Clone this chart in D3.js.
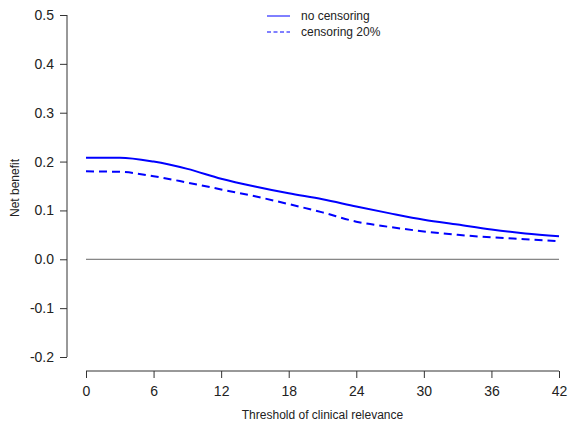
<!DOCTYPE html>
<html lang="en">
<head>
<meta charset="utf-8">
<script src="https://d3js.org/d3.v7.min.js"></script>
<style>
  body { margin: 0; background: #fff; }
  text { font-family: "Liberation Sans", Arial, sans-serif; fill: #222; }
</style>
</head>
<body>
<div id="plot-div"></div>
<script>
const width = 570
const height = 437

// values
const thresholds = [0, 3, 6, 9, 12, 15, 18, 21, 24, 27, 30, 33, 36, 39, 42]
const noCensoring = [0.208, 0.208, 0.200, 0.185, 0.165, 0.149, 0.135, 0.123, 0.108, 0.094, 0.081, 0.071, 0.061, 0.053, 0.047]
const censoring20 = [0.180, 0.179, 0.170, 0.157, 0.143, 0.129, 0.113, 0.096, 0.077, 0.066, 0.057, 0.050, 0.045, 0.041, 0.037]
const xTicks = [0, 6, 12, 18, 24, 30, 36, 42]
const yTicks = [-0.2, -0.1, 0, 0.1, 0.2, 0.3, 0.4, 0.5]
const seriesNames = ["no censoring", "censoring 20%"]

let xScale = d3.scaleLinear().domain([0, 42]).range([86, 559])
let yScale = d3.scaleLinear().domain([-0.2, 0.5]).range([357, 15])

var svg = d3.select("#plot-div")
  .append("svg")
  .attr("width", width)
  .attr("height", height)

// y axis
svg.append("g")
  .attr("transform", "translate(67,0)")
  .call(d3.axisLeft(yScale).tickValues(yTicks).tickFormat(d => d.toFixed(1)).tickSize(7).tickPadding(6))
  .call(g => g.select(".domain").attr("stroke", "#333").attr("d", `M0,${yScale(-0.2)}V${yScale(0.5)}`))
  .call(g => g.selectAll(".tick line").attr("stroke", "#333"))
  .call(g => g.selectAll(".tick text").attr("font-size", 14).attr("font-family", "Liberation Sans, Arial, sans-serif").attr("fill", "#222"))

// x axis
svg.append("g")
  .attr("transform", "translate(0,371)")
  .call(d3.axisBottom(xScale).tickValues(xTicks).tickSize(7).tickPadding(8))
  .call(g => g.select(".domain").attr("stroke", "#333").attr("d", `M${xScale(0)},0H${xScale(42)}`))
  .call(g => g.selectAll(".tick line").attr("stroke", "#333"))
  .call(g => g.selectAll(".tick text").attr("font-size", 14).attr("font-family", "Liberation Sans, Arial, sans-serif").attr("fill", "#222"))

// axis titles
svg.append("text")
  .attr("x", xScale(21))
  .attr("y", 419)
  .attr("text-anchor", "middle")
  .attr("font-size", 12)
  .text("Threshold of clinical relevance")

svg.append("text")
  .attr("transform", "translate(19,188) rotate(-90)")
  .attr("text-anchor", "middle")
  .attr("font-size", 12)
  .text("Net benefit")

// zero reference line
svg.append("line")
  .attr("x1", xScale(0)).attr("x2", xScale(42))
  .attr("y1", yScale(0)).attr("y2", yScale(0))
  .attr("stroke", "#666")
  .attr("stroke-width", 1)

let line = d3.line()
  .x((d, i) => xScale(thresholds[i]))
  .y(d => yScale(d))
  .curve(d3.curveMonotoneX)

svg.append("path")
  .datum(noCensoring)
  .attr("d", line)
  .attr("fill", "none")
  .attr("stroke", "#0000ff")
  .attr("stroke-width", 2)

svg.append("path")
  .datum(censoring20)
  .attr("d", line)
  .attr("fill", "none")
  .attr("stroke", "#0000ff")
  .attr("stroke-width", 2)
  .attr("stroke-dasharray", "8,5")

// legend
let legend = svg.append("g").attr("transform", "translate(267,16)")
seriesNames.forEach((name, i) => {
  legend.append("line")
    .attr("x1", 0).attr("x2", 23)
    .attr("y1", i * 16).attr("y2", i * 16)
    .attr("stroke", "#0000ff")
    .attr("stroke-width", 1)
    .attr("stroke-dasharray", i === 1 ? "4,2.5" : null)
  legend.append("text")
    .attr("x", 34)
    .attr("y", i * 16)
    .attr("dy", "0.35em")
    .attr("font-size", 12)
    .text(name)
})
</script>
</body>
</html>
